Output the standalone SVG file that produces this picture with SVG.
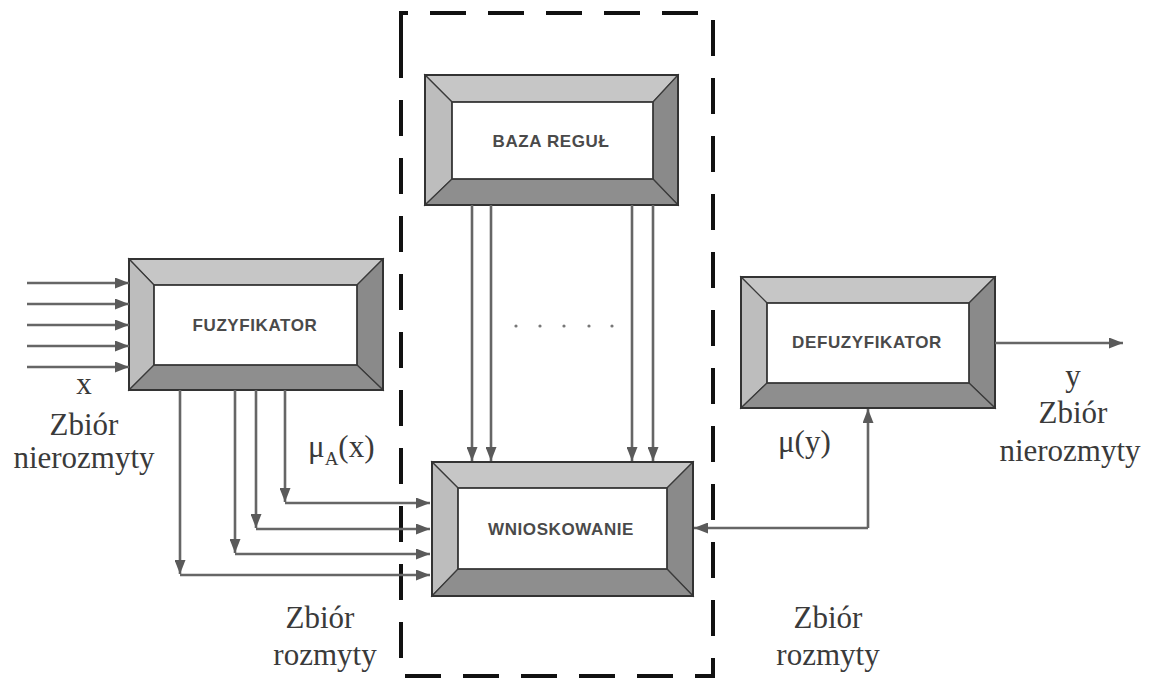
<svg xmlns="http://www.w3.org/2000/svg" width="1151" height="679" viewBox="0 0 1151 679">
<style>
.lt{fill:#c6c6c6;stroke:#3a3a3a;stroke-width:1.2}
.ll{fill:#bdbdbd;stroke:#3a3a3a;stroke-width:1.2}
.dr{fill:#8a8a8a;stroke:#3a3a3a;stroke-width:1.2}
.db{fill:#8e8e8e;stroke:#3a3a3a;stroke-width:1.2}
.in{fill:#ffffff;stroke:#3a3a3a;stroke-width:1.8}
.ot{fill:none;stroke:#333;stroke-width:2}
.bt{font-family:"Liberation Sans",Arial,sans-serif;font-size:17px;font-weight:bold;letter-spacing:0.6px;fill:#4a4a4a;text-anchor:middle}
.lb{font-family:"Liberation Serif","Times New Roman",serif;font-size:31px;fill:#3a3a3a;text-anchor:middle}
.cn{fill:none;stroke:#666;stroke-width:2.6}
</style>
<defs>
<marker id="ah" viewBox="0 0 14 11" refX="14" refY="5.5" markerWidth="14" markerHeight="11" markerUnits="userSpaceOnUse" orient="auto">
<path d="M0,0 L14,5.5 L0,11 z" fill="#5a5a5a"/>
</marker>
</defs>
<rect width="1151" height="679" fill="#ffffff"/>

<g id="dashed-frame">
<path d="M401,42 L401,13 L713,13 L713,676 L401,676 Z" fill="none" stroke="#111" stroke-width="4" stroke-dasharray="36 22"/>
</g>

<g id="fuzyfikator">
<polygon class="lt" points="129,259 383,259 357,285 154,285"/>
<polygon class="ll" points="129,259 154,285 154,365 129,390"/>
<polygon class="dr" points="383,259 383,390 357,365 357,285"/>
<polygon class="db" points="129,390 154,365 357,365 383,390"/>
<rect class="in" x="154" y="285" width="203" height="80"/>
<rect class="ot" x="129" y="259" width="254" height="131"/>
<text class="bt" x="255" y="331">FUZYFIKATOR</text>
</g>

<g id="baza-regul">
<polygon class="lt" points="425,75 678,75 653,102 452,102"/>
<polygon class="ll" points="425,75 452,102 452,179 425,205"/>
<polygon class="dr" points="678,75 678,205 653,179 653,102"/>
<polygon class="db" points="425,205 452,179 653,179 678,205"/>
<rect class="in" x="452" y="102" width="201" height="77"/>
<rect class="ot" x="425" y="75" width="253" height="130"/>
<text class="bt" x="551" y="147">BAZA REGUŁ</text>
</g>

<g id="wnioskowanie">
<polygon class="lt" points="432,462 693,462 667,488 458,488"/>
<polygon class="ll" points="432,462 458,488 458,569 432,596"/>
<polygon class="dr" points="693,462 693,596 667,569 667,488"/>
<polygon class="db" points="432,596 458,569 667,569 693,596"/>
<rect class="in" x="458" y="488" width="209" height="81"/>
<rect class="ot" x="432" y="462" width="261" height="134"/>
<text class="bt" x="561" y="535">WNIOSKOWANIE</text>
</g>

<g id="defuzyfikator">
<polygon class="lt" points="741,277 995,277 969,303 767,303"/>
<polygon class="ll" points="741,277 767,303 767,383 741,408"/>
<polygon class="dr" points="995,277 995,408 969,383 969,303"/>
<polygon class="db" points="741,408 767,383 969,383 995,408"/>
<rect class="in" x="767" y="303" width="202" height="80"/>
<rect class="ot" x="741" y="277" width="254" height="131"/>
<text class="bt" x="867" y="348">DEFUZYFIKATOR</text>
</g>

<g id="connectors">
<line class="cn" x1="27" y1="283" x2="129" y2="283" marker-end="url(#ah)"/>
<line class="cn" x1="27" y1="304" x2="129" y2="304" marker-end="url(#ah)"/>
<line class="cn" x1="27" y1="325" x2="129" y2="325" marker-end="url(#ah)"/>
<line class="cn" x1="27" y1="346" x2="129" y2="346" marker-end="url(#ah)"/>
<line class="cn" x1="27" y1="367" x2="129" y2="367" marker-end="url(#ah)"/>

<line class="cn" x1="285" y1="390" x2="285" y2="502" marker-end="url(#ah)"/>
<line class="cn" x1="285" y1="503" x2="430" y2="503" marker-end="url(#ah)"/>
<line class="cn" x1="256" y1="390" x2="256" y2="528" marker-end="url(#ah)"/>
<line class="cn" x1="256" y1="529" x2="430" y2="529" marker-end="url(#ah)"/>
<line class="cn" x1="235" y1="390" x2="235" y2="553" marker-end="url(#ah)"/>
<line class="cn" x1="235" y1="554" x2="430" y2="554" marker-end="url(#ah)"/>
<line class="cn" x1="180" y1="390" x2="180" y2="574" marker-end="url(#ah)"/>
<line class="cn" x1="180" y1="575" x2="430" y2="575" marker-end="url(#ah)"/>

<line class="cn" x1="472" y1="205" x2="472" y2="461" marker-end="url(#ah)"/>
<line class="cn" x1="491" y1="205" x2="491" y2="461" marker-end="url(#ah)"/>
<line class="cn" x1="632" y1="205" x2="632" y2="461" marker-end="url(#ah)"/>
<line class="cn" x1="653" y1="205" x2="653" y2="461" marker-end="url(#ah)"/>

<path class="cn" d="M868,528 L868,409" marker-end="url(#ah)"/>
<path class="cn" d="M868,528 L694,528" marker-end="url(#ah)"/>

<line class="cn" x1="995" y1="343" x2="1123" y2="343" marker-end="url(#ah)"/>
</g>

<g id="dots" fill="#777">
<circle cx="516" cy="326" r="1.6"/>
<circle cx="540" cy="326" r="1.6"/>
<circle cx="564" cy="326" r="1.6"/>
<circle cx="589" cy="326" r="1.6"/>
<circle cx="612" cy="326" r="1.6"/>
</g>

<g id="labels">
<text class="lb" x="84" y="394">x</text>
<text class="lb" x="84" y="435">Zbiór</text>
<text class="lb" x="84" y="468">nierozmyty</text>
<text class="lb" x="1073" y="386">y</text>
<text class="lb" x="1073" y="423">Zbiór</text>
<text class="lb" x="1070" y="461">nierozmyty</text>
<text class="lb" x="320" y="628">Zbiór</text>
<text class="lb" x="325" y="665">rozmyty</text>
<text class="lb" x="828" y="628">Zbiór</text>
<text class="lb" x="828" y="665">rozmyty</text>
<text class="lb" x="308" y="457" style="text-anchor:start">μ<tspan dy="8" font-size="19">A</tspan><tspan dy="-8">(x)</tspan></text>
<text class="lb" x="778" y="452" style="text-anchor:start">μ(y)</text>
</g>
</svg>
